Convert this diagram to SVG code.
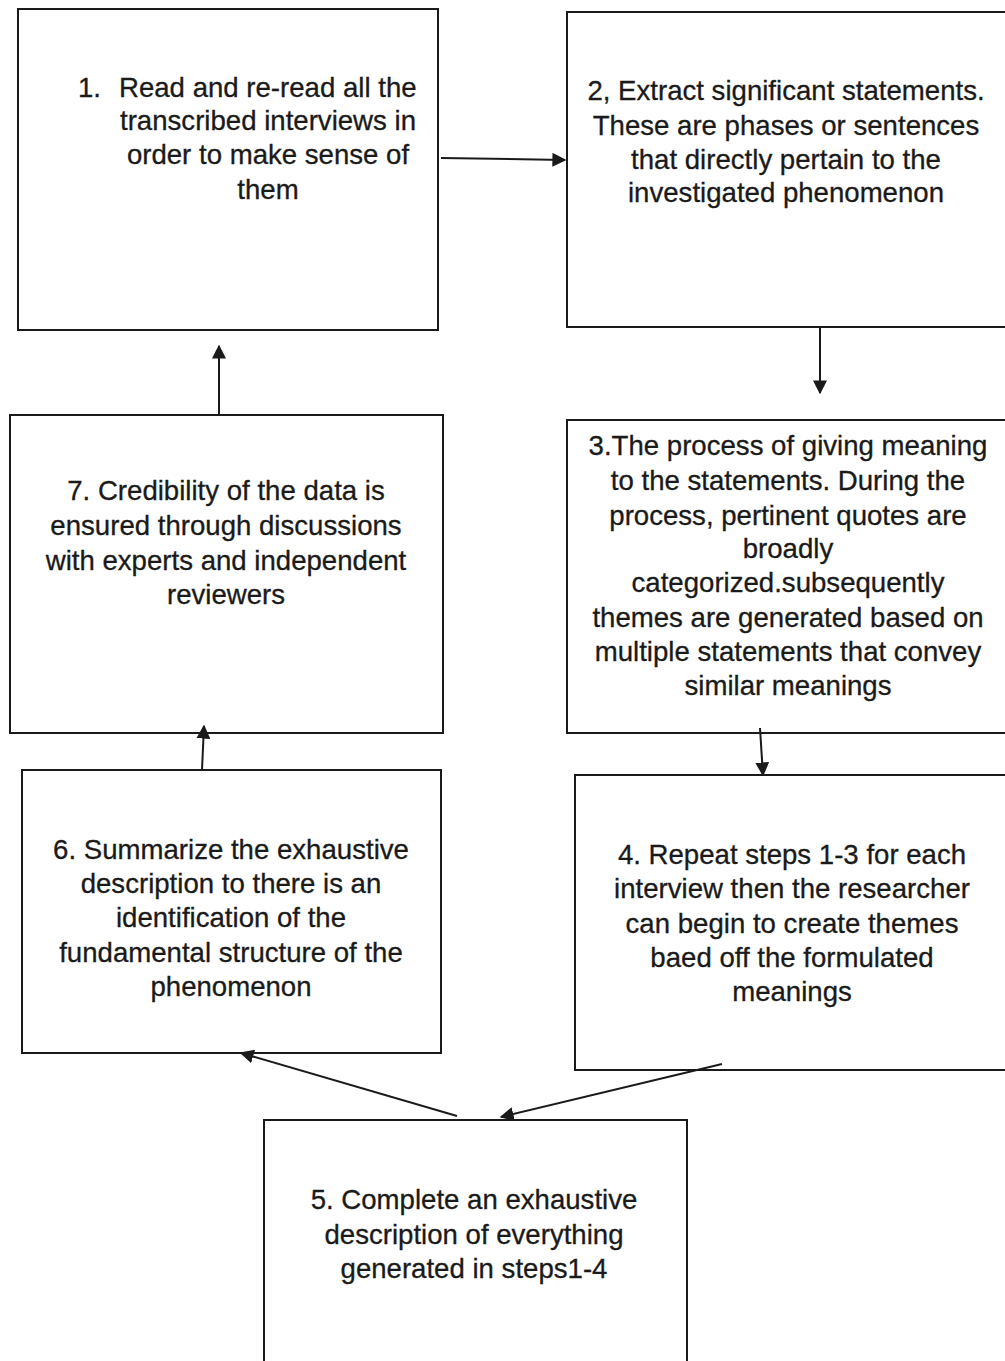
<svg xmlns="http://www.w3.org/2000/svg" width="1005" height="1361" viewBox="0 0 1005 1361">
<style>
.box{fill:#fff;stroke:#1a1a1a;stroke-width:2}
.t{font-family:"Liberation Sans",Arial,sans-serif;font-size:27.6px;fill:#1a1a1a;stroke:#1a1a1a;stroke-width:0.3;text-anchor:middle}
.c{stroke:#1a1a1a;stroke-width:2;fill:none;marker-end:url(#ah)}
</style>
<defs>
<marker id="ah" viewBox="0 0 10 10" refX="9" refY="5" markerWidth="7" markerHeight="7" orient="auto" markerUnits="strokeWidth">
<path d="M0,0 L10,5 L0,10 z" fill="#1a1a1a"/>
</marker>
</defs>
<rect width="1005" height="1361" fill="#fff"/>
<g id="n1">
<rect class="box" x="18" y="9" width="420" height="321"/>
<text class="t" x="78" y="97" style="text-anchor:start">1.</text>
<text class="t" x="119" y="97" style="text-anchor:start">Read and re-read all the</text>
<text class="t" x="268" y="130">transcribed interviews in</text>
<text class="t" x="268" y="164">order to make sense of</text>
<text class="t" x="268" y="199">them</text>
</g>
<g id="n2">
<rect class="box" x="567" y="12" width="450" height="315"/>
<text class="t" x="786" y="100">2, Extract significant statements.</text>
<text class="t" x="786" y="135">These are phases or sentences</text>
<text class="t" x="786" y="169">that directly pertain to the</text>
<text class="t" x="786" y="202">investigated phenomenon</text>
</g>
<g id="n3">
<rect class="box" x="567" y="420" width="450" height="313"/>
<text class="t" x="788" y="455">3.The process of giving meaning</text>
<text class="t" x="788" y="490">to the statements. During the</text>
<text class="t" x="788" y="525">process, pertinent quotes are</text>
<text class="t" x="788" y="558">broadly</text>
<text class="t" x="788" y="592">categorized.subsequently</text>
<text class="t" x="788" y="627">themes are generated based on</text>
<text class="t" x="788" y="661">multiple statements that convey</text>
<text class="t" x="788" y="695">similar meanings</text>
</g>
<g id="n4">
<rect class="box" x="575" y="775" width="442" height="295"/>
<text class="t" x="792" y="864">4. Repeat steps 1-3 for each</text>
<text class="t" x="792" y="898">interview then the researcher</text>
<text class="t" x="792" y="933">can begin to create themes</text>
<text class="t" x="792" y="967">baed off the formulated</text>
<text class="t" x="792" y="1001">meanings</text>
</g>
<g id="n5">
<rect class="box" x="264" y="1120" width="423" height="260"/>
<text class="t" x="474" y="1209">5. Complete an exhaustive</text>
<text class="t" x="474" y="1244">description of everything</text>
<text class="t" x="474" y="1278">generated in steps1-4</text>
</g>
<g id="n6">
<rect class="box" x="22" y="770" width="419" height="283"/>
<text class="t" x="231" y="859">6. Summarize the exhaustive</text>
<text class="t" x="231" y="893">description to there is an</text>
<text class="t" x="231" y="927">identification of the</text>
<text class="t" x="231" y="962">fundamental structure of the</text>
<text class="t" x="231" y="996">phenomenon</text>
</g>
<g id="n7">
<rect class="box" x="10" y="415" width="433" height="318"/>
<text class="t" x="226" y="500">7. Credibility of the data is</text>
<text class="t" x="226" y="535">ensured through discussions</text>
<text class="t" x="226" y="570">with experts and independent</text>
<text class="t" x="226" y="604">reviewers</text>
</g>
<g id="connectors">
<line class="c" x1="441" y1="158" x2="565" y2="160"/>
<line class="c" x1="820" y1="328" x2="820" y2="393"/>
<line class="c" x1="219" y1="414" x2="219" y2="346"/>
<line class="c" x1="202" y1="770" x2="204" y2="726"/>
<line class="c" x1="760" y1="728" x2="763" y2="775"/>
<line class="c" x1="457" y1="1116" x2="241" y2="1053"/>
<line class="c" x1="722" y1="1064" x2="501" y2="1117"/>
</g>
</svg>
